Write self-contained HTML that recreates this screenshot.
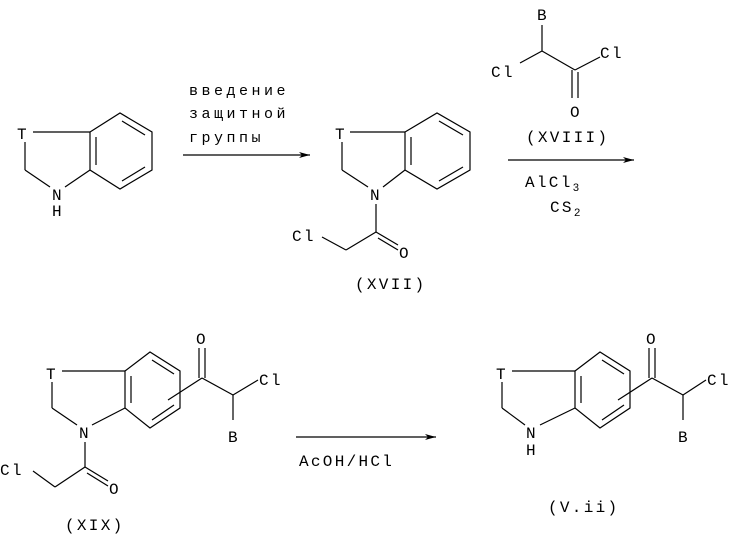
<!DOCTYPE html>
<html><head><meta charset="utf-8"><style>
html,body{margin:0;padding:0;background:#fff;width:735px;height:536px;overflow:hidden}
svg{display:block}
text{font-family:"Liberation Mono","DejaVu Sans Mono",monospace;font-size:16px;letter-spacing:2.3px;fill:#000}
.s{font-size:15px;letter-spacing:3.5px}
line,polyline{stroke:#000;stroke-width:1.2;fill:none}
</style></head><body>
<svg width="735" height="536" viewBox="0 0 735 536">
<defs><marker id="a" markerWidth="12" markerHeight="8" refX="11" refY="4" orient="auto" markerUnits="userSpaceOnUse"><path d="M0,1 L11,4 L0,7 L3,4 z" fill="#000"/></marker></defs>

<!-- Molecule 1 -->
<text x="17" y="139">T</text>
<line x1="33" y1="132" x2="90" y2="132"/>
<line x1="25" y1="142" x2="25" y2="170"/>
<line x1="25" y1="170" x2="50" y2="187"/>
<line x1="65" y1="187" x2="90" y2="170"/>
<polyline points="90,132 120,113 152,132 152,170 120,189 90,170 90,132"/>
<line x1="96" y1="137" x2="96" y2="165"/>
<line x1="122" y1="121" x2="145" y2="135"/>
<line x1="122" y1="181" x2="145" y2="167"/>
<text x="52" y="200">N</text>
<text x="52" y="216">H</text>

<!-- Arrow 1 -->
<text class="s" x="189" y="95">введение</text>
<text class="s" x="189" y="118">защитной</text>
<text class="s" x="189" y="142">группы</text>
<line x1="183" y1="155" x2="310" y2="155" marker-end="url(#a)"/>

<!-- Molecule 2 -->
<text x="335" y="139">T</text>
<line x1="350" y1="132" x2="405" y2="132"/>
<line x1="342" y1="142" x2="342" y2="170"/>
<line x1="342" y1="170" x2="368" y2="187"/>
<line x1="383" y1="187" x2="405" y2="170"/>
<polyline points="405,132 437,113 470,132 470,170 437,189 405,170 405,132"/>
<line x1="411" y1="137" x2="411" y2="165"/>
<line x1="439" y1="121" x2="463" y2="135"/>
<line x1="439" y1="181" x2="463" y2="167"/>
<text x="370" y="200">N</text>
<line x1="376" y1="204" x2="376" y2="232"/>
<line x1="376" y1="232" x2="346" y2="250"/>
<line x1="346" y1="250" x2="322" y2="237"/>
<text x="292" y="241">Cl</text>
<line x1="376" y1="232" x2="398" y2="245"/>
<line x1="378" y1="238" x2="398" y2="250"/>
<text x="399" y="258">O</text>
<text x="355" y="289">(XVII)</text>

<!-- XVIII reagent -->
<text x="537" y="20">B</text>
<line x1="542" y1="25" x2="542" y2="51"/>
<line x1="542" y1="51" x2="520" y2="63"/>
<text x="491" y="77">Cl</text>
<line x1="542" y1="51" x2="575" y2="70"/>
<line x1="575" y1="70" x2="600" y2="57"/>
<text x="600" y="58">Cl</text>
<line x1="572" y1="70" x2="572" y2="98"/>
<line x1="578" y1="72" x2="578" y2="98"/>
<text x="570" y="117">O</text>
<text x="526" y="142">(XVIII)</text>
<line x1="508" y1="160" x2="634" y2="160" marker-end="url(#a)"/>
<text x="525" y="187">AlCl<tspan font-size="11" dy="4">3</tspan></text>
<text x="550" y="212">CS<tspan font-size="11" dy="4">2</tspan></text>

<!-- XIX -->
<text x="46" y="379">T</text>
<line x1="62" y1="371" x2="125" y2="371"/>
<line x1="52" y1="382" x2="52" y2="408"/>
<line x1="52" y1="408" x2="77" y2="425"/>
<line x1="92" y1="425" x2="125" y2="408"/>
<polyline points="125,371 150,352 180,371 180,408 150,428 125,408 125,371"/>
<line x1="131" y1="376" x2="131" y2="403"/>
<line x1="152" y1="360" x2="174" y2="374"/>
<line x1="152" y1="420" x2="174" y2="405"/>
<text x="79" y="438">N</text>
<line x1="85" y1="442" x2="85" y2="467"/>
<line x1="85" y1="467" x2="55" y2="487"/>
<line x1="55" y1="487" x2="33" y2="471"/>
<text x="0" y="475">Cl</text>
<line x1="85" y1="467" x2="108" y2="481"/>
<line x1="87" y1="473" x2="108" y2="486"/>
<text x="109" y="494">O</text>
<text x="65" y="530">(XIX)</text>
<line x1="168" y1="400" x2="202" y2="378"/>
<line x1="199" y1="378" x2="199" y2="348"/>
<line x1="205" y1="378" x2="205" y2="348"/>
<text x="196" y="344">O</text>
<line x1="202" y1="378" x2="233" y2="395"/>
<line x1="233" y1="395" x2="258" y2="380"/>
<text x="259" y="385">Cl</text>
<line x1="233" y1="395" x2="233" y2="420"/>
<text x="228" y="442">B</text>

<!-- Arrow 3 -->
<line x1="296" y1="437" x2="436" y2="437" marker-end="url(#a)"/>
<text x="299" y="466">AcOH/HCl</text>

<!-- V.ii -->
<text x="496" y="379">T</text>
<line x1="512" y1="371" x2="575" y2="371"/>
<line x1="502" y1="382" x2="502" y2="408"/>
<line x1="502" y1="408" x2="525" y2="425"/>
<line x1="540" y1="425" x2="575" y2="408"/>
<polyline points="575,371 600,352 630,371 630,408 600,428 575,408 575,371"/>
<line x1="581" y1="376" x2="581" y2="403"/>
<line x1="602" y1="360" x2="624" y2="374"/>
<line x1="602" y1="420" x2="624" y2="405"/>
<text x="526" y="438">N</text>
<text x="526" y="455">H</text>
<line x1="618" y1="400" x2="652" y2="378"/>
<line x1="649" y1="378" x2="649" y2="348"/>
<line x1="655" y1="378" x2="655" y2="348"/>
<text x="646" y="344">O</text>
<line x1="652" y1="378" x2="683" y2="395"/>
<line x1="683" y1="395" x2="706" y2="380"/>
<text x="707" y="385">Cl</text>
<line x1="683" y1="395" x2="683" y2="420"/>
<text x="678" y="442">B</text>
<text x="548" y="512">(V.ii)</text>
</svg>
</body></html>
